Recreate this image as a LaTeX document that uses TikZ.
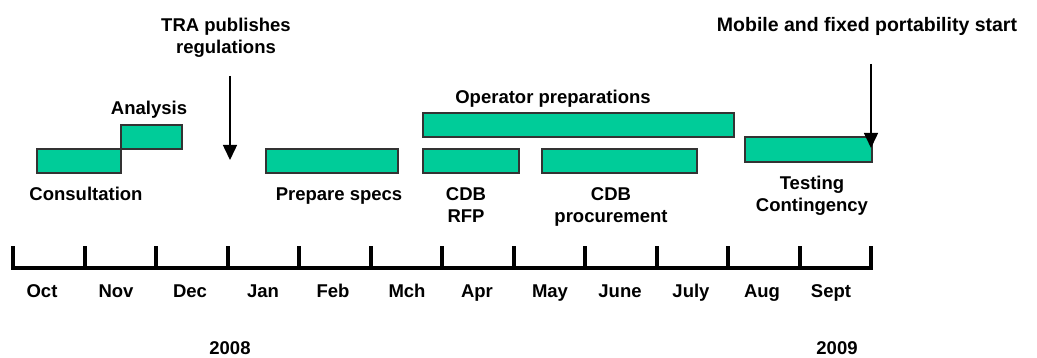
\documentclass[tikz,border=0pt]{standalone}
\usepackage{fontspec}
\setmainfont{Liberation Sans}
\usetikzlibrary{arrows.meta}
\definecolor{barfill}{HTML}{00CC99}
\definecolor{baredge}{HTML}{333333}
\tikzset{
  bar/.style={fill=barfill, draw=baredge, line width=1.5pt},
  lbl/.style={anchor=base, align=center, inner sep=0pt,
    font=\fontsize{18.5}{22}\selectfont\bfseries},
  month/.style={anchor=base, inner sep=0pt, font=\fontsize{18.5}{22}\selectfont\bfseries},
  axis/.style={line width=4pt},
  milestone/.style={line width=1.5pt, -{Triangle[width=14pt,length=15pt]}}
}
\begin{document}
\begin{tikzpicture}[x=1pt, y=-1pt]
\useasboundingbox (0,0) rectangle (1037,358);

% activity bars
\path[bar] (37,149) rectangle (121,173);
\path[bar] (121,125) rectangle (182,149);
\path[bar] (266,149) rectangle (398,173);
\path[bar] (423,149) rectangle (519,173);
\path[bar] (423,113) rectangle (734,137);
\path[bar] (542,149) rectangle (697,173);
\path[bar] (745,137) rectangle (872,162);

% activity labels (base = baseline of the last line)
\node[lbl] (consult) at (86,201) {Consultation};
\node[lbl] (analysis) at (149,115) {Analysis};
\node[lbl] (specs) at (339,201) {Prepare specs};
\node[lbl] (rfp) at (466,223) {CDB\\RFP};
\node[lbl] (oper) at (553,104) {Operator preparations};
\node[lbl] (proc) at (611,223) {CDB\\procurement};
\node[lbl] (test) at (812,212) {Testing\\Contingency};

% milestones
\node[lbl] (tra) at (226,54) {TRA publishes\\regulations};
\node[lbl, font=\fontsize{19.5}{22}\selectfont\bfseries] (mnp) at (867,32) {Mobile and fixed portability start};
\coordinate (traTop) at (230,76);
\coordinate (traEnd) at (230,160);
\coordinate (mnpTop) at (871,64);
\coordinate (mnpEnd) at (871,148);
\draw[milestone] (traTop) -- (traEnd);
\draw[milestone] (mnpTop) -- (mnpEnd);

% time axis
\coordinate (axL) at (11,268);
\coordinate (axR) at (873,268);
\draw[axis] (axL) -- (axR);
\foreach \i in {0,...,12}{
  \draw[axis] (13+71.5*\i,268) -- (13+71.5*\i,246);
}

% month labels
\foreach \m/\x [count=\k] in {Oct/42,Nov/116,Dec/190,Jan/263,Feb/333,Mch/407,Apr/477,May/550,June/620,July/691,Aug/762,Sept/831}{
  \node[month] (m\k) at (\x,298) {\m};
}

% years
\node[month] (y2008) at (230,355) {2008};
\node[month] (y2009) at (837,355) {2009};
\end{tikzpicture}
\end{document}
